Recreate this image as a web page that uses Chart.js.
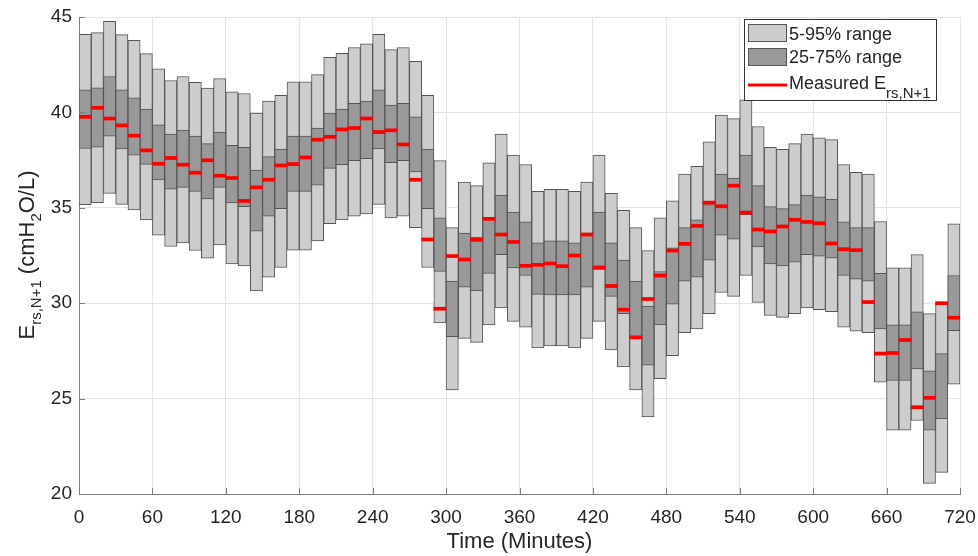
<!DOCTYPE html>
<html>
<head>
<meta charset="utf-8">
<script src="https://cdn.jsdelivr.net/npm/chart.js@4.4.1/dist/chart.umd.min.js"></script>
<style>
  html, body { margin: 0; padding: 0; background: #fff; }
  #wrap { width: 978px; height: 556px; position: relative; }
</style>
</head>
<body>
<div id="wrap"><canvas id="ersChart"></canvas></div>
<script>
// bin centres (minutes), one box per 10-minute bin
const minutes = [5, 15, 25, 35, 45, 55, 65, 75, 85, 95, 105, 115,
  125, 135, 145, 155, 165, 175, 185, 195, 205, 215, 225, 235,
  245, 255, 265, 275, 285, 295, 305, 315, 325, 335, 345, 355,
  365, 375, 385, 395, 405, 415, 425, 435, 445, 455, 465, 475,
  485, 495, 505, 515, 525, 535, 545, 555, 565, 575, 585, 595,
  605, 615, 625, 635, 645, 655, 665, 675, 685, 695, 705, 715];

const p95 = [44.09, 44.18, 44.77, 44.08, 43.78, 43.08, 42.28, 41.67, 41.88, 41.58, 41.27, 41.77,
  41.08, 40.99, 39.96, 40.59, 40.89, 41.60, 41.60, 41.98, 42.89, 43.10, 43.40, 43.59,
  44.09, 43.29, 43.40, 42.68, 40.89, 37.47, 33.96, 36.35, 36.16, 37.36, 38.86, 37.76,
  37.26, 35.86, 35.97, 35.97, 35.86, 36.35, 37.76, 35.76, 34.87, 33.96, 32.76, 34.47,
  35.36, 36.77, 37.17, 38.46, 39.86, 39.67, 40.66, 39.26, 38.17, 38.06, 38.36, 38.86,
  38.67, 38.57, 37.26, 36.86, 36.77, 34.28, 31.85, 31.85, 32.55, 29.45, 29.95, 34.16];

const p75 = [41.18, 41.29, 41.88, 41.18, 40.76, 40.17, 39.35, 38.86, 39.07, 38.76, 38.36, 38.97,
  38.27, 38.17, 36.98, 37.68, 38.08, 38.76, 38.76, 39.18, 39.96, 40.17, 40.47, 40.59,
  41.18, 40.38, 40.48, 39.77, 38.08, 34.47, 31.16, 33.67, 33.46, 34.42, 35.67, 34.77,
  34.26, 33.16, 33.27, 33.27, 33.16, 33.67, 34.77, 33.16, 32.26, 31.16, 29.85, 31.66,
  32.90, 33.96, 34.37, 35.17, 36.77, 36.56, 37.76, 36.16, 35.06, 34.96, 35.17, 35.67,
  35.57, 35.46, 34.26, 33.96, 33.96, 31.56, 28.86, 28.86, 29.55, 26.45, 27.36, 31.45];

const p25 = [38.11, 38.18, 38.76, 38.08, 37.76, 37.28, 36.46, 35.97, 36.07, 35.86, 35.46, 36.07,
  35.25, 35.06, 33.77, 34.56, 34.96, 35.86, 35.86, 36.18, 37.07, 37.26, 37.47, 37.57,
  38.08, 37.36, 37.47, 36.88, 34.96, 31.66, 28.25, 30.84, 30.65, 31.56, 32.55, 31.85,
  31.45, 30.46, 30.44, 30.44, 30.44, 30.84, 31.94, 30.36, 29.45, 28.25, 26.75, 28.86,
  29.95, 31.16, 31.37, 32.26, 33.56, 33.35, 34.64, 32.95, 32.06, 31.96, 32.15, 32.55,
  32.46, 32.36, 31.45, 31.26, 31.16, 28.65, 25.95, 25.95, 26.55, 23.35, 23.94, 28.56];

const p5 = [35.17, 35.27, 35.76, 35.18, 34.89, 34.37, 33.56, 32.97, 33.16, 32.76, 32.36, 33.06,
  32.06, 31.96, 30.65, 31.37, 31.87, 32.78, 32.78, 33.27, 34.17, 34.37, 34.56, 34.68,
  35.18, 34.47, 34.56, 33.96, 31.87, 28.96, 25.46, 28.16, 27.95, 28.86, 29.75, 29.05,
  28.75, 27.65, 27.76, 27.76, 27.65, 28.16, 29.05, 27.55, 26.66, 25.46, 24.04, 26.05,
  27.25, 28.45, 28.65, 29.45, 30.56, 30.36, 31.45, 30.04, 29.36, 29.26, 29.45, 29.75,
  29.66, 29.55, 28.75, 28.54, 28.45, 25.86, 23.35, 23.35, 23.85, 20.56, 21.13, 25.75];

const measured = [39.77, 40.24, 39.68, 39.32, 38.78, 38.01, 37.31, 37.61, 37.26, 36.84, 37.49, 36.68,
  36.56, 35.36, 36.07, 36.47, 37.22, 37.29, 37.64, 38.57, 38.72, 39.11, 39.18, 39.68,
  38.97, 39.06, 38.32, 36.47, 33.34, 29.71, 32.47, 32.29, 33.32, 34.42, 33.60, 33.21,
  31.96, 32.01, 32.08, 31.94, 32.50, 33.60, 31.85, 30.90, 29.66, 28.21, 30.22, 31.45,
  32.76, 33.11, 34.05, 35.27, 35.08, 36.16, 34.75, 33.86, 33.76, 34.02, 34.37, 34.26,
  34.19, 33.13, 32.83, 32.78, 30.06, 27.36, 27.39, 28.07, 24.55, 25.04, 30.00, 29.24];

const legendLabels = ['5-95% range', '25-75% range', ['Measured E', 'rs,N+1']];
const yTitle = [['E', false], ['rs,N+1', true], [' (cmH', false], ['2', true], ['O/L)', false]];

const FONT = '"Liberation Sans", Arial, Helvetica, sans-serif';
const lightGray = '#cdcdcd';
const darkGray = '#999999';
const edgeGray = '#555555';
const red = '#ff0000';
const axisGray = '#7d7d7d';
const textColor = '#262626';

const markHalf = 0.08; // half thickness of the red marker, in y units

// draws a run of text with subscripts, starting at x (or centred on x)
function drawRich(ctx, parts, x, y, size, subSize, drop, centred) {
  let total = 0;
  const widths = parts.map(([t, sub]) => {
    ctx.font = (sub ? subSize : size) + 'px ' + FONT;
    const w = ctx.measureText(t).width;
    total += w;
    return w;
  });
  let cx = centred ? x - total / 2 : x;
  ctx.textAlign = 'left';
  ctx.textBaseline = 'alphabetic';
  parts.forEach(([t, sub], i) => {
    ctx.font = (sub ? subSize : size) + 'px ' + FONT;
    ctx.fillText(t, cx, sub ? y + drop : y);
    cx += widths[i];
  });
}

const overlay = {
  id: 'overlay',
  afterDatasetsDraw(chart) {
    const {ctx, chartArea, scales} = chart;
    ctx.save();
    ctx.strokeStyle = axisGray;
    ctx.lineWidth = 1;
    ctx.beginPath();
    scales.x.ticks.forEach(t => {
      const px = Math.round(scales.x.getPixelForValue(t.value)) + 0.5;
      ctx.moveTo(px, chartArea.bottom);
      ctx.lineTo(px, chartArea.bottom - 6);
    });
    scales.y.ticks.forEach(t => {
      const py = Math.round(scales.y.getPixelForValue(t.value)) + 0.5;
      ctx.moveTo(chartArea.left, py);
      ctx.lineTo(chartArea.left + 6, py);
    });
    ctx.stroke();
    ctx.restore();
  },
  afterDraw(chart) {
    const ctx = chart.ctx;
    ctx.save();
    // legend box
    ctx.fillStyle = '#ffffff';
    ctx.fillRect(744.5, 19.5, 192, 81);
    ctx.strokeStyle = '#333333';
    ctx.lineWidth = 1;
    ctx.strokeRect(744.5, 19.5, 192, 81);

    ctx.fillStyle = lightGray;
    ctx.fillRect(748, 24, 39, 18);
    ctx.strokeStyle = edgeGray;
    ctx.strokeRect(748.5, 24.5, 38, 17);
    ctx.fillStyle = darkGray;
    ctx.fillRect(748, 48, 39, 18);
    ctx.strokeRect(748.5, 48.5, 38, 17);
    ctx.fillStyle = red;
    ctx.fillRect(748, 83.5, 39, 3);

    ctx.fillStyle = textColor;
    ctx.font = '18px ' + FONT;
    ctx.textAlign = 'left';
    ctx.textBaseline = 'alphabetic';
    ctx.fillText(legendLabels[0], 789, 39.5);
    ctx.fillText(legendLabels[1], 789, 63);
    drawRich(ctx, [[legendLabels[2][0], false], [legendLabels[2][1], true]], 789, 88.5, 18, 15, 9, false);

    // y axis title
    ctx.translate(34, 255);
    ctx.rotate(-Math.PI / 2);
    ctx.fillStyle = textColor;
    drawRich(ctx, yTitle, 0, 0, 22, 15, 7, true);
    ctx.restore();
  }
};

const barCommon = {
  type: 'bar',
  grouped: false,
  barPercentage: 1,
  categoryPercentage: 1,
  borderSkipped: false
};

new Chart(document.getElementById('ersChart').getContext('2d'), {
  type: 'bar',
  data: {
    datasets: [
      Object.assign({}, barCommon, {
        label: '5-95% range',
        data: minutes.map((m, i) => ({x: m, y: [p5[i], p95[i]]})),
        backgroundColor: lightGray,
        borderColor: edgeGray,
        borderWidth: 1,
        order: 3
      }),
      Object.assign({}, barCommon, {
        label: '25-75% range',
        data: minutes.map((m, i) => ({x: m, y: [p25[i], p75[i]]})),
        backgroundColor: darkGray,
        borderColor: edgeGray,
        borderWidth: 1,
        order: 2
      }),
      Object.assign({}, barCommon, {
        label: 'Measured',
        data: minutes.map((m, i) => ({x: m, y: [measured[i] - markHalf, measured[i] + markHalf]})),
        backgroundColor: red,
        borderWidth: 0,
        order: 1
      })
    ]
  },
  options: {
    responsive: true,
    maintainAspectRatio: false,
    animation: false,
    layout: { padding: { top: 17, right: 18, bottom: 0, left: 0 } },
    plugins: {
      legend: { display: false },
      tooltip: { enabled: false }
    },
    scales: {
      x: {
        type: 'linear',
        min: 0,
        max: 720,
        offset: false,
        ticks: {
          stepSize: 60,
          autoSkip: false,
          maxRotation: 0,
          padding: 12,
          color: textColor,
          font: { family: FONT, size: 19 }
        },
        grid: { color: '#e4e4e4', drawTicks: false, offset: false },
        border: { color: axisGray, width: 1 },
        title: {
          display: true,
          text: 'Time (Minutes)',
          color: textColor,
          font: { family: FONT, size: 22 },
          padding: { top: 0, bottom: 1 }
        },
        afterFit: function (scale) {
          scale.height = 62;
          scale.paddingLeft = 0;
          scale.paddingRight = 0;
        }
      },
      y: {
        min: 20,
        max: 45,
        ticks: {
          stepSize: 5,
          padding: 7,
          color: textColor,
          font: { family: FONT, size: 19 }
        },
        grid: { color: '#e4e4e4', drawTicks: false },
        border: { color: axisGray, width: 1 },
        afterFit: function (scale) {
          scale.width = 79;
          scale.paddingTop = 0;
          scale.paddingBottom = 0;
        }
      }
    }
  },
  plugins: [overlay]
});
</script>
</body>
</html>
